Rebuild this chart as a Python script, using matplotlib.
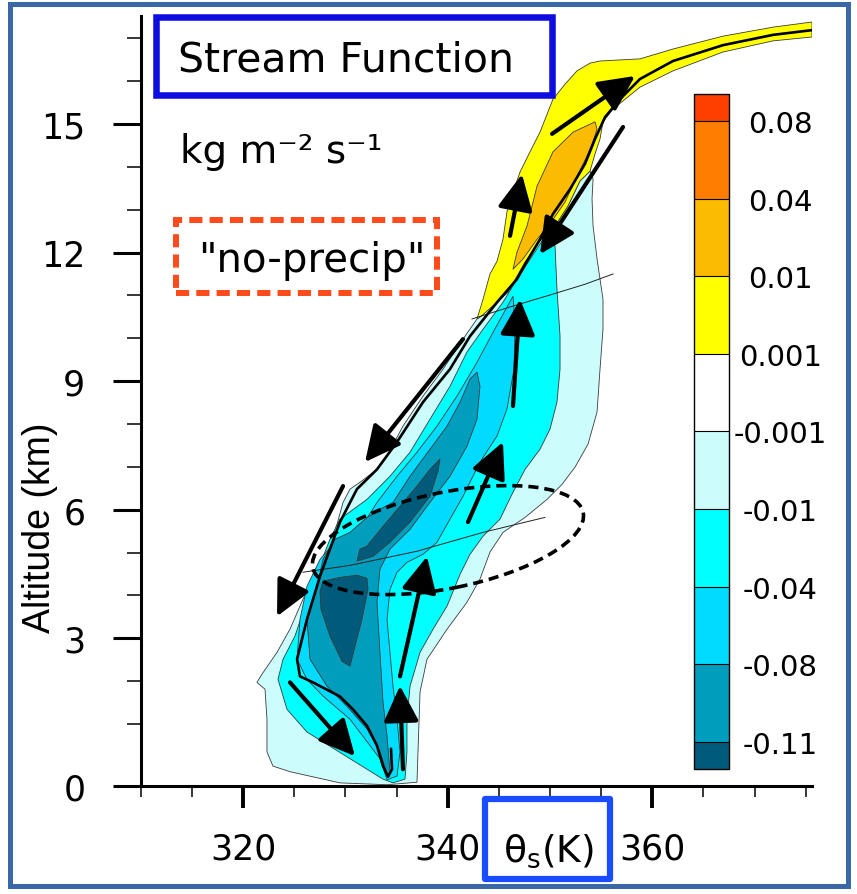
import numpy as np
import matplotlib
matplotlib.use("Agg")
import matplotlib.pyplot as plt
import matplotlib.transforms as mtransforms
from matplotlib.patches import Rectangle, Ellipse
from matplotlib.colors import ListedColormap, BoundaryNorm
from matplotlib.cm import ScalarMappable

plt.rcParams["font.family"] = "DejaVu Sans"
plt.rcParams["mathtext.default"] = "regular"

# --- colour levels of the stream function (kg m-2 s-1)
level_bounds = [-0.11, -0.08, -0.04, -0.01, -0.001, 0.001, 0.01, 0.04, 0.08]
level_labels = ["-0.11", "-0.08", "-0.04", "-0.01", "-0.001", "0.001", "0.01", "0.04", "0.08"]
band_colors = ["#009dbd", "#00dbff", "#00ffff", "#ccfcfc", "#ffffff", "#ffff00", "#fbbb00", "#ff7d00"]
under_color = "#005b7b"
over_color = "#ff3f00"

# --- axis ticks
theta_major = [320, 340, 360]
theta_minor = [310, 315, 325, 330, 335, 345, 350, 355, 365, 370, 375]
alt_major = [0, 3, 6, 9, 12, 15]
alt_minor = [1, 2, 4, 5, 7, 8, 10, 11, 13, 14, 16, 17]

# --- contour outlines: (theta_s [K], altitude [km])
# boundary between the positive (yellow) and negative (cyan) lobes
diag = [(343.15, 10.49), (344.62, 10.80), (345.89, 11.08), (347.56, 11.78), (349.12, 12.31),
        (350.49, 12.62), (351.76, 13.09), (352.93, 13.67), (353.91, 13.90)]

yellow_outline = [(342.86, 10.45), (343.45, 10.91), (344.13, 11.50), (344.82, 11.80), (345.40, 12.31),
                  (345.79, 12.95), (346.38, 13.41), (347.07, 13.88), (348.04, 14.35), (349.02, 14.81),
                  (350.29, 15.58), (351.47, 15.93), (352.64, 16.24), (353.91, 16.42), (354.89, 16.47),
                  (358.80, 16.52), (362.03, 16.75), (366.92, 17.05), (371.81, 17.26), (375.62, 17.38),
                  (375.62, 17.03), (371.81, 16.94), (366.92, 16.68), (362.03, 16.24), (358.80, 15.86),
                  (356.16, 15.35), (355.18, 15.05), (354.89, 14.65), (354.40, 14.30)] + diag[::-1]

orange_outline = [(354.40, 15.05), (354.60, 14.88), (354.11, 14.53), (353.62, 14.25), (352.74, 13.83),
                  (351.47, 13.18), (350.00, 12.67), (348.73, 12.31), (347.36, 11.85), (346.38, 11.61),
                  (346.77, 12.01), (347.75, 12.62), (348.73, 13.55), (350.29, 14.35), (352.25, 14.81)]

pale_outline = [(354.21, 13.72), (354.11, 13.25), (354.21, 12.62), (354.60, 11.85), (355.18, 10.91),
                (355.18, 10.21), (354.89, 9.28), (354.60, 8.28), (353.72, 7.53), (352.44, 6.99),
                (351.17, 6.59), (349.71, 6.24), (347.56, 5.82), (345.40, 5.47), (344.13, 5.01),
                (343.15, 4.38), (341.88, 3.84), (339.93, 3.21), (337.97, 2.51), (337.29, 1.75),
                (337.09, 0.55), (336.99, 0.06), (334.06, 0.02), (329.46, 0.05), (324.57, 0.23),
                (322.91, 0.32), (322.32, 0.55), (322.32, 1.11), (322.13, 1.81), (321.34, 1.97),
                (321.83, 2.16), (323.30, 2.67), (324.57, 3.21), (325.84, 3.91), (327.02, 4.45),
                (328.29, 5.08), (329.17, 5.66), (329.76, 6.17), (330.44, 6.48), (331.42, 6.64),
                (333.08, 6.94), (334.06, 7.25), (335.62, 7.95), (337.58, 8.65), (339.54, 9.28),
                (341.49, 9.98), (342.86, 10.45)] + diag[1:]

cyan_outline = [(349.61, 12.41), (350.49, 12.15), (350.68, 11.15), (350.98, 10.05), (350.98, 9.28),
                (350.68, 8.51), (350.00, 7.88), (349.02, 7.41), (347.56, 6.94), (346.28, 6.36),
                (345.11, 5.78), (343.45, 5.38), (342.18, 4.96), (341.20, 4.49), (339.93, 3.75),
                (338.56, 3.21), (337.29, 2.67), (336.31, 1.88), (336.01, 1.11), (336.01, 0.55),
                (335.82, 0.11), (334.65, 0.05), (333.67, 0.11), (330.44, 0.44), (326.23, 0.87),
                (324.28, 1.34), (323.40, 2.04), (323.89, 2.51), (325.06, 3.05), (326.04, 3.75),
                (327.21, 4.54), (328.48, 5.31), (329.46, 5.78), (332.10, 6.24), (334.35, 6.78),
                (336.31, 7.34), (338.26, 8.11), (340.22, 8.88), (341.88, 9.68), (343.45, 10.21),
                (345.40, 10.84), (346.77, 11.38)]

sky_outline = [(346.38, 10.98), (346.58, 10.38), (346.48, 9.28), (345.79, 8.35), (344.82, 7.72),
               (343.15, 7.11), (341.49, 6.31), (340.22, 5.78), (338.95, 5.24), (337.58, 4.96),
               (336.01, 4.77), (335.04, 4.54), (334.35, 4.14), (334.06, 3.44), (334.35, 2.67),
               (334.65, 1.88), (335.04, 1.11), (335.33, 0.55), (335.04, 0.16), (334.06, 0.10),
               (333.37, 0.44), (330.44, 1.11), (327.80, 1.65), (326.23, 2.04), (325.26, 2.51),
               (325.55, 3.44), (326.23, 4.21), (327.51, 4.84), (329.17, 5.31), (331.42, 5.54),
               (333.08, 6.17), (335.04, 6.78), (336.99, 7.34), (338.95, 7.95), (340.90, 8.65),
               (342.86, 9.44), (344.43, 10.14)]

teal_outline = [(342.86, 9.21), (343.15, 8.88), (342.86, 8.11), (341.88, 7.48), (340.22, 6.78),
                (338.26, 6.17), (336.31, 5.54), (334.35, 5.08), (333.37, 4.61), (333.08, 3.84),
                (333.37, 2.67), (333.67, 1.51), (334.06, 0.81), (334.35, 0.23), (334.16, 0.15),
                (333.37, 0.55), (332.10, 0.92), (330.15, 1.41), (328.19, 1.88), (326.53, 2.51),
                (326.23, 3.44), (327.21, 4.21), (327.80, 4.84), (328.97, 5.31), (330.44, 5.47),
                (331.91, 5.78), (333.37, 6.01), (334.65, 6.17), (336.31, 6.78), (338.26, 7.41),
                (339.93, 7.95), (341.20, 8.51), (342.18, 9.05)]

core_upper = [(339.24, 7.18), (339.05, 6.90), (338.26, 6.31), (336.31, 5.71), (334.35, 5.24),
              (332.69, 4.91), (331.12, 4.80), (331.42, 5.08), (332.10, 5.15), (333.67, 5.61),
              (335.33, 6.08), (336.99, 6.55), (338.26, 6.94)]

core_lower = [(327.80, 4.33), (329.46, 4.42), (331.12, 4.47), (332.10, 4.40), (332.20, 4.14),
              (331.61, 3.44), (330.93, 2.81), (330.44, 2.35), (329.66, 2.46), (328.48, 3.05),
              (327.60, 3.68), (327.51, 4.10)]

# zero streamline (thick black)
zero_line = [(375.62, 17.19), (371.81, 17.08), (366.92, 16.84), (362.03, 16.47), (358.80, 16.05),
             (356.85, 15.58), (355.38, 15.16), (354.40, 14.65), (353.42, 14.07), (351.96, 13.48),
             (350.29, 12.90), (349.02, 12.31), (347.75, 11.80), (346.77, 11.38), (344.82, 10.84),
             (342.18, 10.05), (340.22, 9.28), (337.58, 8.51), (335.04, 7.58), (333.08, 6.94),
             (331.12, 6.48), (329.46, 5.71), (328.48, 5.08), (327.51, 4.45), (326.23, 3.44),
             (325.26, 2.51), (325.55, 2.11), (326.82, 1.97), (329.46, 1.64), (330.73, 1.34),
             (332.10, 0.97), (333.08, 0.65), (333.67, 0.32), (334.16, 0.15), (334.55, 0.27),
             (334.45, 0.60)]

# thin reference lines
thin_upper = [(342.37, 10.45), (346.09, 10.73), (350.00, 11.01), (353.42, 11.26), (356.16, 11.50)]
thin_lower = [(325.84, 4.54), (330.44, 4.70), (336.99, 5.03), (343.45, 5.47), (349.51, 5.82)]

# circulation arrows: tail theta, tail z, head theta, head z
arrow_tail_theta = [350.20, 346.09, 357.14, 346.38, 341.98, 341.49, 329.76, 335.33, 335.62, 324.57]
arrow_tail_z = [14.77, 12.39, 14.93, 8.42, 5.71, 9.98, 6.55, 2.11, 0.27, 1.97]
arrow_head_theta = [358.31, 347.26, 349.02, 347.07, 345.40, 331.91, 323.30, 337.97, 335.33, 330.93]
arrow_head_z = [16.12, 13.83, 11.96, 10.91, 7.58, 7.11, 3.51, 4.91, 1.89, 0.48]

ellipse_center = (340.02, 5.29)

# lowest kilometre is drawn taller than the rest on this axis
low_ratio = 62 / 42.83


def alt_fwd(z):
    z = np.asarray(z, dtype=float)
    return np.where(z < 1, 1 - (1 - z) * low_ratio, z)


def alt_inv(u):
    u = np.asarray(u, dtype=float)
    return np.where(u < 1, 1 - (1 - u) / low_ratio, u)


fig = plt.figure(figsize=(8.57, 8.95), dpi=100)
fig.patch.set_facecolor("white")
ax = fig.add_axes([0.1645, 0.1207, 0.7830, 0.8603])
ax.set_yscale("function", functions=(alt_fwd, alt_inv))
ax.set_xlim(310, 375.62)
ax.set_ylim(0, 17.52)

edge = "#3a3a3a"
regions = [
    (pale_outline, band_colors[3]),
    (cyan_outline, band_colors[2]),
    (sky_outline, band_colors[1]),
    (teal_outline, band_colors[0]),
    (core_upper, under_color),
    (core_lower, under_color),
    (yellow_outline, band_colors[5]),
    (orange_outline, band_colors[6]),
]
for outline, col in regions:
    pts = np.array(outline)
    ax.fill(pts[:, 0], pts[:, 1], facecolor=col, edgecolor=edge, linewidth=0.6, zorder=2)

for line in (thin_upper, thin_lower):
    pts = np.array(line)
    ax.plot(pts[:, 0], pts[:, 1], color="#222222", lw=0.7, zorder=3)

pts = np.array(zero_line)
ax.plot(pts[:, 0], pts[:, 1], color="black", lw=1.9, zorder=3, solid_capstyle="round")

for tx, tz, hx, hz in zip(arrow_tail_theta, arrow_tail_z, arrow_head_theta, arrow_head_z):
    ax.annotate("", xy=(hx, hz), xytext=(tx, tz),
                arrowprops=dict(arrowstyle="-|>,head_length=0.55,head_width=0.27",
                                mutation_scale=40, lw=3, color="black",
                                shrinkA=0, shrinkB=0),
                zorder=5)

# dashed ellipse, sized in pixels around a data-space centre
ell_trans = mtransforms.ScaledTranslation(ellipse_center[0], ellipse_center[1], ax.transData)
ell = Ellipse((0, 0), width=276, height=96, angle=11.5, transform=ell_trans,
              fill=False, edgecolor="black", lw=2.6, linestyle=(0, (2.8, 1.65)), zorder=6)
ax.add_patch(ell)

# axes styling
ax.spines[["top", "right"]].set_visible(False)
for side in ("left", "bottom"):
    ax.spines[side].set_linewidth(2.2)
ax.set_xticks(theta_major)
ax.set_xticks(theta_minor, minor=True)
ax.set_yticks(alt_major)
ax.set_yticks(alt_minor, minor=True)
ax.set_xticklabels([str(v) for v in theta_major])
ax.set_yticklabels([str(v) for v in alt_major])
ax.tick_params(axis="y", which="major", length=20, width=2.2, pad=20, labelsize=25)
ax.tick_params(axis="y", which="minor", length=10, width=1.1)
ax.tick_params(axis="x", which="major", length=16, width=2.8, pad=17, labelsize=25)
ax.tick_params(axis="x", which="minor", length=8, width=1.1)

fig.text(0.0467, 1 - 528 / 895, "Altitude (km)", rotation=90, ha="center", va="center",
         fontsize=27, family="Liberation Sans")

# colour bar: 8 inner bands, end bands about a third of a band long
cmap = ListedColormap(band_colors)
cmap.set_under(under_color)
cmap.set_over(over_color)
norm = BoundaryNorm(level_bounds, cmap.N)
cax = fig.add_axes([0.8098, 0.1397, 0.0408, 0.7542])
cbar = fig.colorbar(ScalarMappable(norm=norm, cmap=cmap), cax=cax, extend="both",
                    extendrect=True, extendfrac=0.35 / 8, drawedges=True, spacing="uniform")
cbar.set_ticks(level_bounds, labels=level_labels)
cbar.ax.tick_params(length=0, pad=37, labelsize=21)
for lbl in cbar.ax.get_yticklabels():
    lbl.set_ha("center")
cbar.outline.set_linewidth(1.0)
cbar.dividers.set_linewidth(0.8)

# annotation boxes and labels
fig.text(346 / 857, 1 - 72 / 895, "Stream Function", ha="center", va="baseline", fontsize=29.5)
fig.add_artist(Rectangle((156 / 857, 1 - 96 / 895), 396 / 857, 78 / 895, transform=fig.transFigure,
                         fill=False, edgecolor="#0d0de0", lw=4.7, zorder=10))

fig.text(180 / 857, 1 - 163 / 895, "kg m\u207b\u00b2 s\u207b\u00b9", ha="left", va="baseline", fontsize=28)

fig.text(312 / 857, 1 - 272 / 895, '"no-precip"', ha="center", va="baseline", fontsize=29)
fig.add_artist(Rectangle((176 / 857, 1 - 294 / 895), 261 / 857, 73 / 895, transform=fig.transFigure,
                         fill=False, edgecolor="#ff4a1c", lw=4.3, linestyle=(0, (2.2, 1.2)), zorder=10))

fig.text(548 / 857, 1 - 862 / 895, "\u03b8$_{s}$(K)", ha="center", va="baseline", fontsize=27)
fig.add_artist(Rectangle((485 / 857, 1 - 880 / 895), 125 / 857, 80 / 895, transform=fig.transFigure,
                         fill=False, edgecolor="#1a4cff", lw=4.5, joinstyle="round", zorder=10))

# outer frame
fig.add_artist(Rectangle((10 / 857, 1 - 887 / 895), 838 / 857, 882 / 895, transform=fig.transFigure,
                         fill=False, edgecolor="#3a67a5", lw=3.6, zorder=10))

fig.savefig("out.png", dpi=100, facecolor="white")
